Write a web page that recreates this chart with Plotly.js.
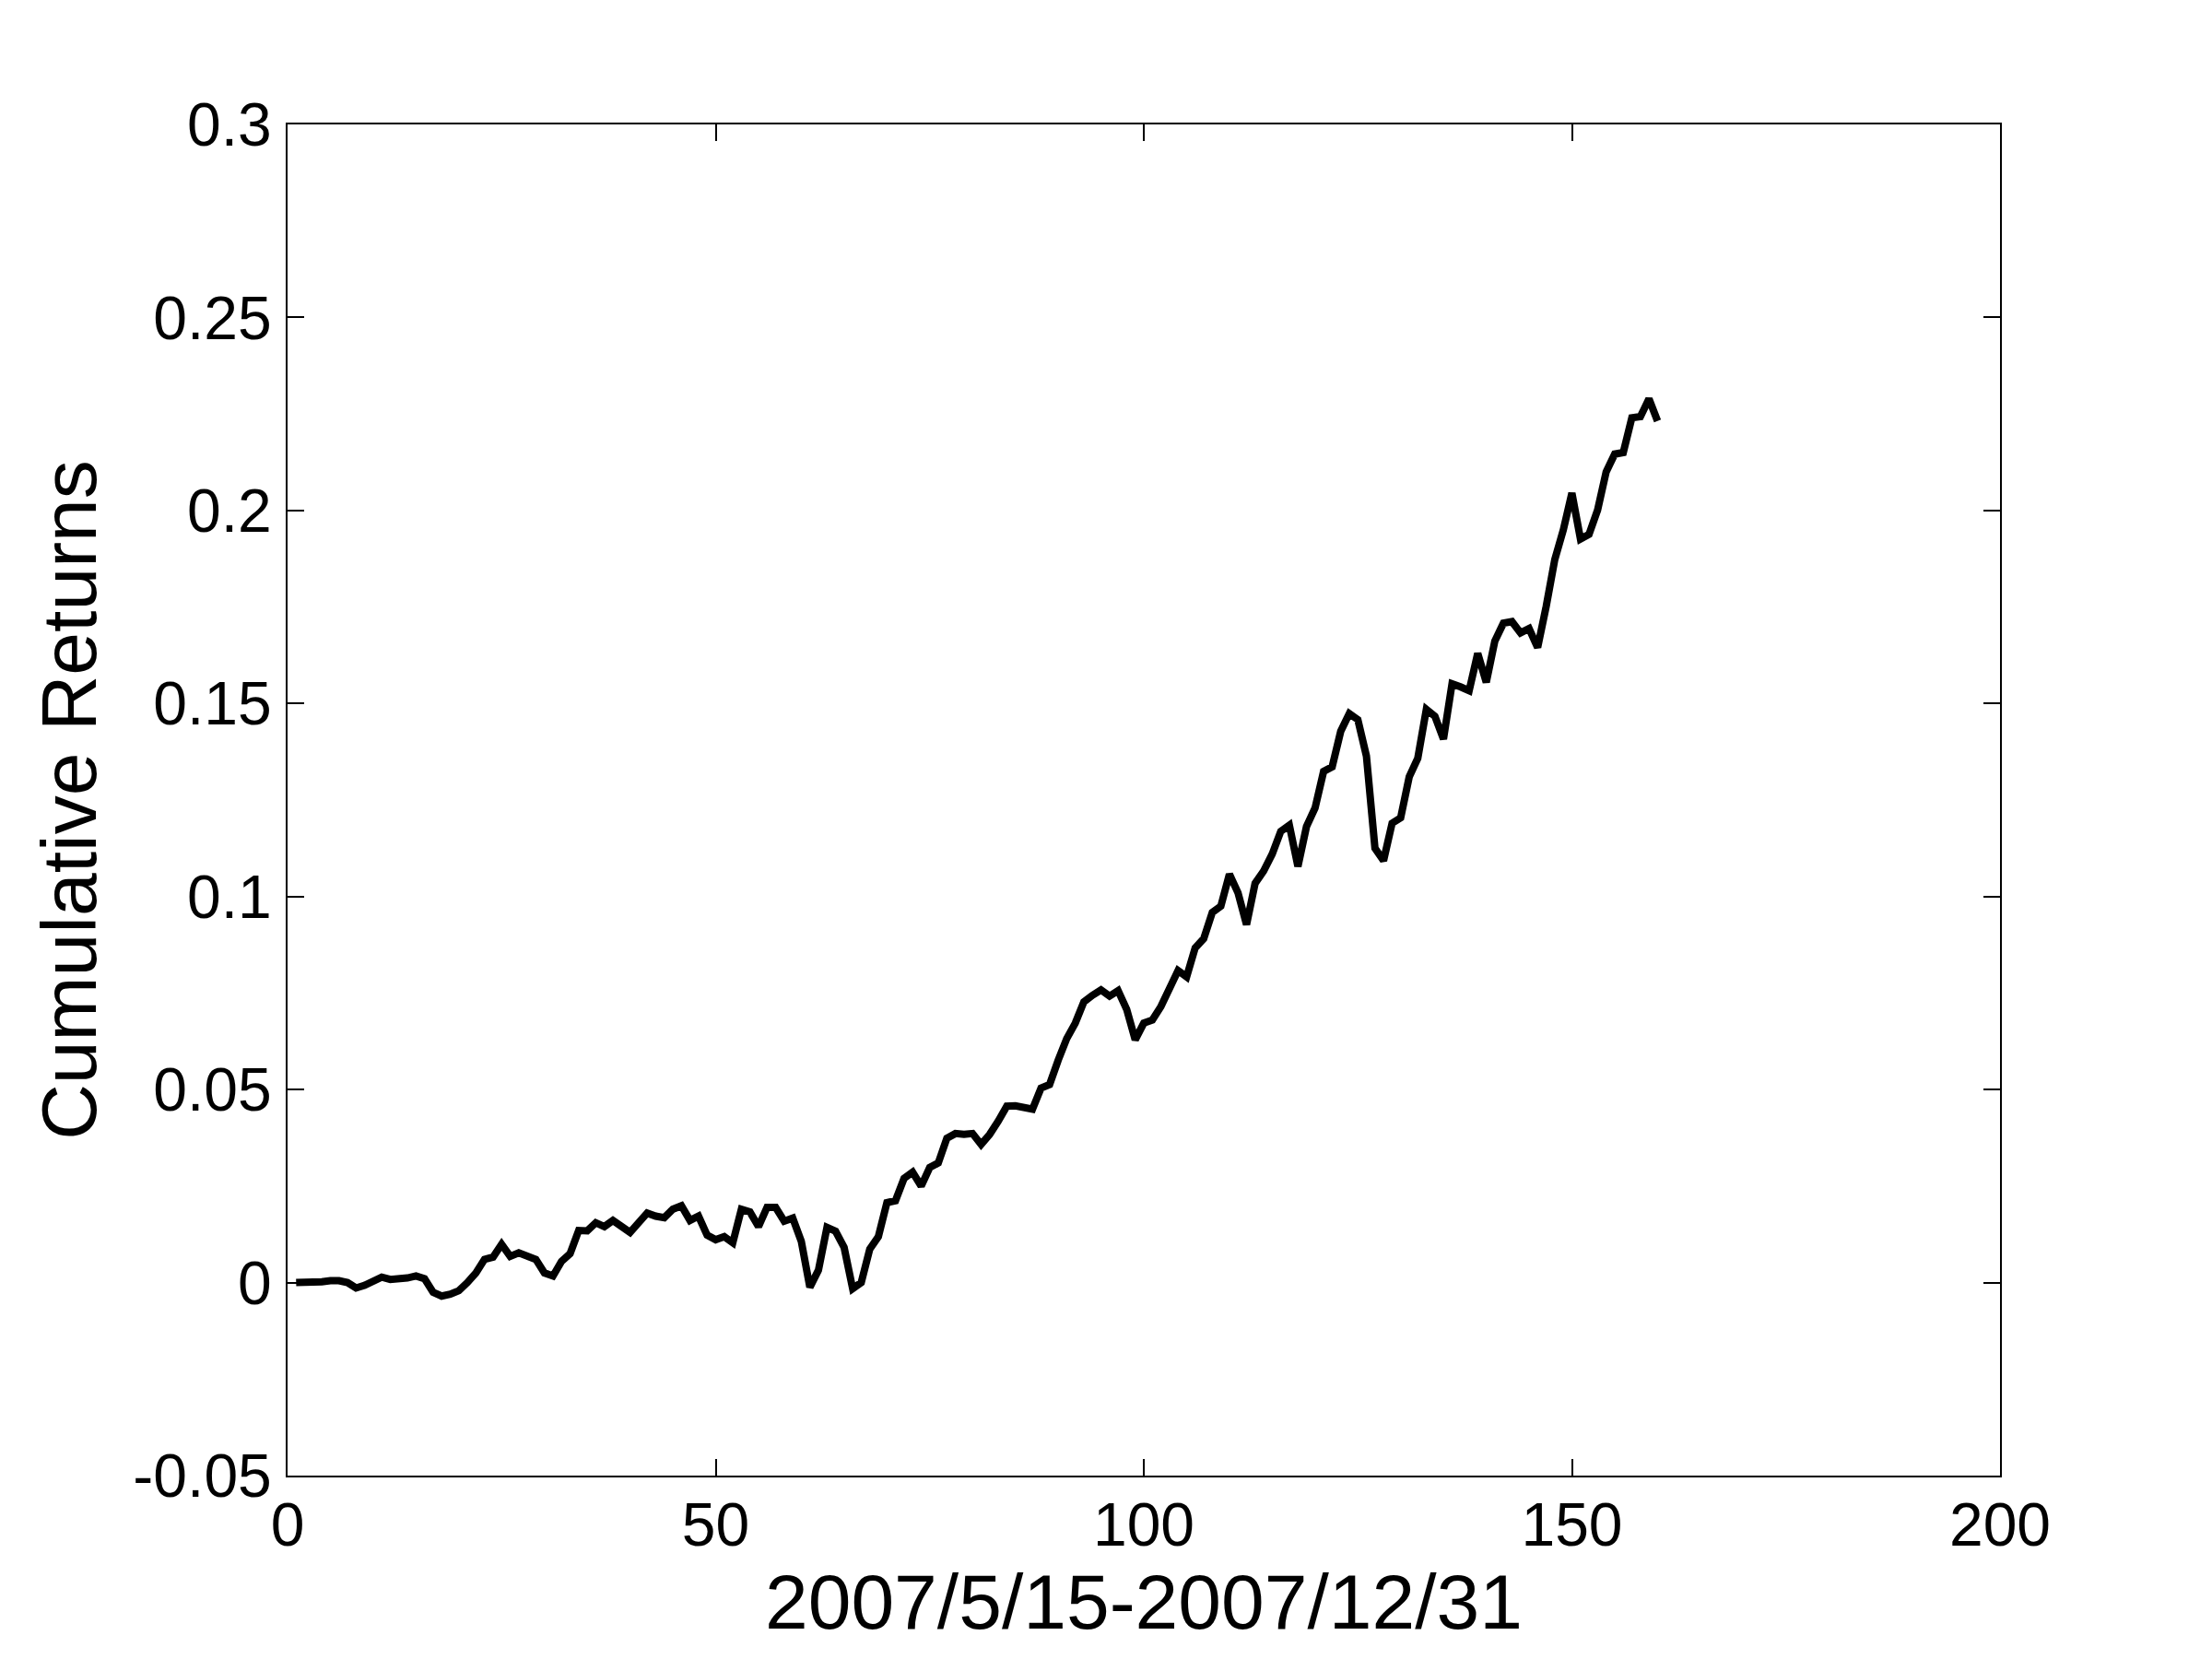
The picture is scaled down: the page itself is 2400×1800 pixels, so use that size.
<!DOCTYPE html>
<html>
<head>
<meta charset="utf-8">
<script src="https://cdn.plot.ly/plotly-3.0.1.min.js"></script>
<style>html,body{margin:0;padding:0;background:#fff;}#chart{width:2400px;height:1800px;}</style>
</head>
<body>
<div id="chart"></div>
<script>
// Trading day index (2007/5/15 - 2007/12/31)
const days = [];
for (let i = 1; i <= 160; i++) days.push(i);

// Cumulative returns
const cumulativeReturns = [
  0.0000, 0.0000, 0.0000, 0.0002, 0.0005, 0.0005, 0.0000, -0.0014, -0.0007, 0.0005,
  0.0014, 0.0008, 0.0008, 0.0012, 0.0017, 0.0010, -0.0025, -0.0035, -0.0030, -0.0021,
  0.0000, 0.0025, 0.0060, 0.0066, 0.0099, 0.0068, 0.0077, 0.0070, 0.0060, 0.0025,
  0.0017, 0.0055, 0.0075, 0.0135, 0.0134, 0.0155, 0.0145, 0.0161, 0.0145, 0.0130,
  0.0155, 0.0180, 0.0172, 0.0168, 0.0190, 0.0199, 0.0161, 0.0172, 0.0123, 0.0111,
  0.0119, 0.0103, 0.0190, 0.0183, 0.0145, 0.0195, 0.0195, 0.0159, 0.0167, 0.0107,
  -0.0012, 0.0032, 0.0143, 0.0133, 0.0091, -0.0016, 0.0000, 0.0087, 0.0119, 0.0207,
  0.0212, 0.0270, 0.0286, 0.0250, 0.0298, 0.0310, 0.0374, 0.0386, 0.0384, 0.0386,
  0.0358, 0.0384, 0.0418, 0.0457, 0.0458, 0.0453, 0.0449, 0.0504, 0.0513, 0.0576,
  0.0632, 0.0672, 0.0727, 0.0744, 0.0758, 0.0742, 0.0756, 0.0708, 0.0629, 0.0672,
  0.0680, 0.0715, 0.0760, 0.0808, 0.0792, 0.0867, 0.0891, 0.0959, 0.0975, 0.1058,
  0.1010, 0.0927, 0.1034, 0.1066, 0.1110, 0.1169, 0.1185, 0.1078, 0.1181, 0.1229,
  0.1324, 0.1336, 0.1428, 0.1474, 0.1458, 0.1364, 0.1125, 0.1093, 0.1190, 0.1204,
  0.1310, 0.1358, 0.1485, 0.1467, 0.1408, 0.1551, 0.1543, 0.1533, 0.1630, 0.1555,
  0.1662, 0.1708, 0.1712, 0.1683, 0.1694, 0.1645, 0.1752, 0.1873, 0.1950, 0.2045,
  0.1926, 0.1938, 0.2001, 0.2100, 0.2146, 0.2150, 0.2240, 0.2243, 0.2289, 0.2232
];

// Tick values and labels
const xTickVals = [0, 50, 100, 150, 200];
const xTickText = ["0", "50", "100", "150", "200"];
const yTickVals = [-0.05, 0, 0.05, 0.1, 0.15, 0.2, 0.25, 0.3];
const yTickText = ["-0.05", "0", "0.05", "0.1", "0.15", "0.2", "0.25", "0.3"];

const xTitle = "2007/5/15-2007/12/31";
const yTitle = "Cumulative Returns";

const fontFamily = "Liberation Sans, Arial, sans-serif";

const trace = {
  x: days,
  y: cumulativeReturns,
  type: "scatter",
  mode: "lines",
  line: {color: "#000000", width: 8},
  hoverinfo: "skip"
};

const axisCommon = {
  showgrid: false,
  zeroline: false,
  showline: true,
  linecolor: "#000000",
  linewidth: 2,
  mirror: "ticks",
  ticks: "inside",
  ticklen: 18,
  tickwidth: 2,
  tickcolor: "#000000",
  tickfont: {family: fontFamily, size: 66, color: "#000000"},
  tickmode: "array",
  automargin: true
};

const layout = {
  width: 2400,
  height: 1800,
  paper_bgcolor: "#ffffff",
  plot_bgcolor: "#ffffff",
  showlegend: false,
  margin: {l: 312, r: 230, t: 135, b: 199, pad: 0},
  font: {family: fontFamily, color: "#000000"},
  xaxis: Object.assign({}, axisCommon, {
    range: [0, 200],
    tickvals: xTickVals,
    ticktext: xTickText,
    ticklabelstandoff: -5,
    title: {text: xTitle, font: {family: fontFamily, size: 84, color: "#000000"}, standoff: 6}
  }),
  yaxis: Object.assign({}, axisCommon, {
    range: [-0.05, 0.3],
    tickvals: yTickVals,
    ticktext: yTickText,
    ticklabelstandoff: 2,
    title: {text: yTitle, font: {family: fontFamily, size: 84, color: "#000000"}, standoff: 12}
  })
};

Plotly.newPlot("chart", [trace], layout, {staticPlot: true, displayModeBar: false});
</script>
</body>
</html>
